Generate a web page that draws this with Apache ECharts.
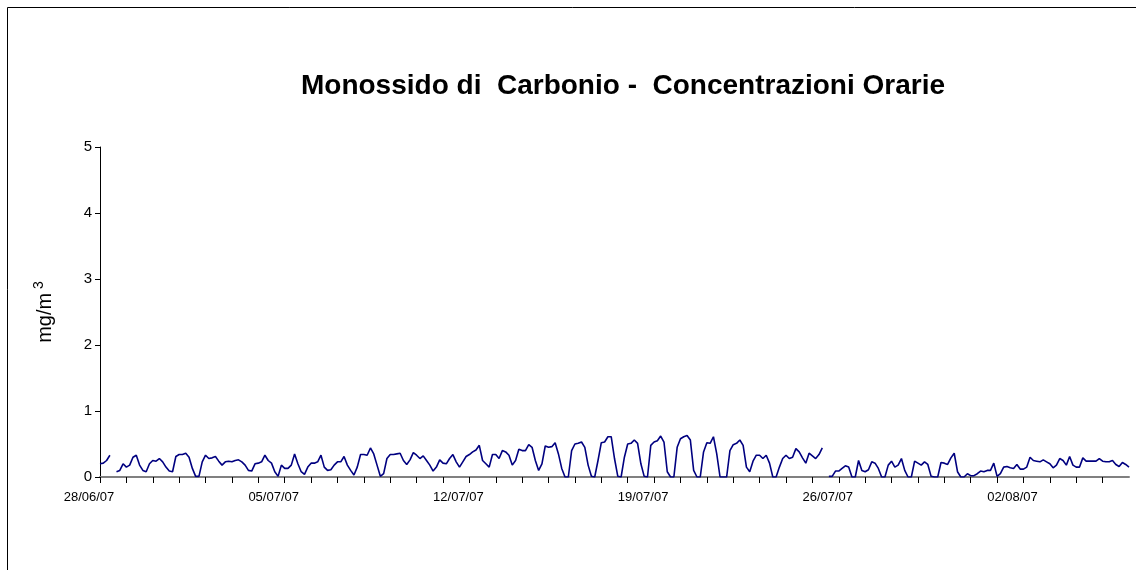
<!DOCTYPE html>
<html>
<head>
<meta charset="utf-8">
<title>Monossido di Carbonio</title>
<script src="https://cdn.jsdelivr.net/npm/echarts@6/dist/echarts.min.js"></script>
<style>
    html, body { margin: 0; padding: 0; background: #fff; }
    #main { width: 1136px; height: 570px; }
</style>
</head>
<body>
<div id="main"></div>
<script>
// concentrazioni lette ogni 3 ore (8 valori al giorno), null = dato mancante
let week1 = [
    0.20, 0.21, 0.25, 0.33, null, 0.08, 0.10, 0.20,
    0.15, 0.18, 0.30, 0.33, 0.18, 0.10, 0.08, 0.20,
    0.25, 0.24, 0.28, 0.23, 0.15, 0.09, 0.08, 0.31,
    0.34, 0.34, 0.36, 0.30, 0.13, 0.01, 0.01, 0.23,
    0.33, 0.28, 0.29, 0.31, 0.24, 0.18, 0.23, 0.24,
    0.23, 0.25, 0.26, 0.23, 0.18, 0.10, 0.09, 0.20,
    0.21, 0.23, 0.33, 0.25, 0.21, 0.08, 0.01, 0.18
]
let week2 = [
    0.13, 0.13, 0.18, 0.35, 0.20, 0.08, 0.04, 0.15,
    0.21, 0.21, 0.23, 0.33, 0.15, 0.10, 0.11, 0.18,
    0.23, 0.23, 0.31, 0.18, 0.10, 0.03, 0.15, 0.34,
    0.34, 0.33, 0.44, 0.35, 0.18, 0.01, 0.05, 0.28,
    0.34, 0.34, 0.35, 0.36, 0.25, 0.19, 0.26, 0.37,
    0.33, 0.28, 0.32, 0.25, 0.18, 0.09, 0.15, 0.26,
    0.21, 0.20, 0.28, 0.34, 0.23, 0.15, 0.23, 0.31
]
let week3 = [
    0.34, 0.38, 0.41, 0.48, 0.25, 0.20, 0.15, 0.34,
    0.34, 0.28, 0.40, 0.38, 0.33, 0.18, 0.25, 0.42,
    0.40, 0.40, 0.49, 0.45, 0.25, 0.10, 0.20, 0.47,
    0.45, 0.46, 0.52, 0.35, 0.13, 0.00, 0.00, 0.40,
    0.50, 0.51, 0.53, 0.45, 0.18, 0.01, 0.00, 0.25,
    0.52, 0.53, 0.61, 0.61, 0.28, 0.01, 0.00, 0.30,
    0.50, 0.51, 0.56, 0.51, 0.20, 0.01, 0.00, 0.48
]
let week4 = [
    0.53, 0.55, 0.62, 0.53, 0.08, 0.00, 0.00, 0.45,
    0.58, 0.61, 0.63, 0.56, 0.10, 0.00, 0.00, 0.38,
    0.52, 0.51, 0.61, 0.35, 0.00, 0.00, 0.00, 0.40,
    0.49, 0.51, 0.56, 0.48, 0.15, 0.08, 0.24, 0.33,
    0.33, 0.28, 0.33, 0.21, 0.00, 0.00, 0.15, 0.28,
    0.33, 0.28, 0.30, 0.43, 0.38, 0.29, 0.21, 0.36,
    0.32, 0.28, 0.34, 0.44, null, 0.01, 0.01, 0.09
]
let week5 = [
    0.09, 0.13, 0.17, 0.15, 0.00, 0.00, 0.25, 0.10,
    0.08, 0.11, 0.23, 0.21, 0.13, 0.00, 0.00, 0.18,
    0.24, 0.15, 0.18, 0.28, 0.10, 0.00, 0.00, 0.24,
    0.21, 0.18, 0.23, 0.19, 0.01, 0.00, 0.00, 0.22,
    0.21, 0.19, 0.29, 0.36, 0.08, 0.00, 0.00, 0.05,
    0.02, 0.02, 0.05, 0.09, 0.08, 0.10, 0.10, 0.21,
    0.01, 0.05, 0.15, 0.16, 0.14, 0.13, 0.19, 0.12
]
let week6 = [
    0.12, 0.15, 0.30, 0.25, 0.24, 0.23, 0.26, 0.23,
    0.20, 0.14, 0.18, 0.28, 0.25, 0.18, 0.31, 0.18,
    0.15, 0.15, 0.29, 0.24, 0.24, 0.24, 0.24, 0.28,
    0.24, 0.23, 0.23, 0.25, 0.19, 0.16, 0.22, 0.19,
    0.15
]
let date_labels = ['28/06/07', '05/07/07', '12/07/07', '19/07/07', '26/07/07', '02/08/07']
let step_hours = 3
let total_hours = 936

let co_values = week1.concat(week2, week3, week4, week5, week6)
let co_data = co_values.map(function (v, i) {
    return [i * step_hours, v]
})

let chart = echarts.init(document.getElementById('main'))
let font = 'Arial, "Liberation Sans", sans-serif'

option = {
    animation: false,
    backgroundColor: '#fff',
    title: {
        text: 'Monossido di  Carbonio -  Concentrazioni Orarie',
        left: 618,
        top: 67,
        textAlign: 'center',
        textStyle: {
            fontFamily: font,
            fontWeight: 'bold',
            fontSize: 28,
            color: '#000'
        }
    },
    graphic: [
        {
            type: 'rect',
            shape: { x: 7.5, y: 7.5, width: 1200, height: 700 },
            style: { fill: 'none', stroke: '#000', lineWidth: 1 }
        }
    ],
    grid: {
        left: 100,
        right: 7,
        top: 147,
        bottom: 93
    },
    xAxis: {
        type: 'value',
        min: 0,
        max: total_hours,
        interval: 24,
        axisLine: {
            lineStyle: { color: '#808080', width: 2 }
        },
        axisTick: {
            show: true,
            length: 6,
            lineStyle: { color: '#000', width: 1 }
        },
        axisLabel: {
            margin: 14,
            fontFamily: font,
            fontSize: 13,
            color: '#000',
            padding: [0, 22, 0, 0],
            showMaxLabel: false,
            formatter: function (v) {
                return v % 168 === 0 ? date_labels[v / 168] : ''
            }
        },
        splitLine: { show: false }
    },
    yAxis: {
        type: 'value',
        min: 0,
        max: 5,
        interval: 1,
        name: 'mg/m{sup| 3}',
        nameLocation: 'middle',
        nameRotate: 90,
        nameGap: 42,
        nameTextStyle: {
            fontFamily: font,
            fontSize: 20,
            color: '#000',
            rich: {
                sup: {
                    fontFamily: font,
                    fontSize: 14,
                    color: '#000',
                    verticalAlign: 'top',
                    padding: [0, 0, 12, 0]
                }
            }
        },
        axisLine: {
            show: true,
            lineStyle: { color: '#000', width: 1 }
        },
        axisTick: {
            show: true,
            length: 5,
            lineStyle: { color: '#000' }
        },
        axisLabel: {
            margin: 8,
            fontFamily: font,
            fontSize: 15,
            color: '#000'
        },
        splitLine: { show: false }
    },
    series: [
        {
            type: 'line',
            data: co_data,
            showSymbol: false,
            connectNulls: false,
            lineStyle: { color: '#000080', width: 1.6 },
            itemStyle: { color: '#000080' }
        }
    ]
}
chart.setOption(option)
</script>
</body>
</html>
